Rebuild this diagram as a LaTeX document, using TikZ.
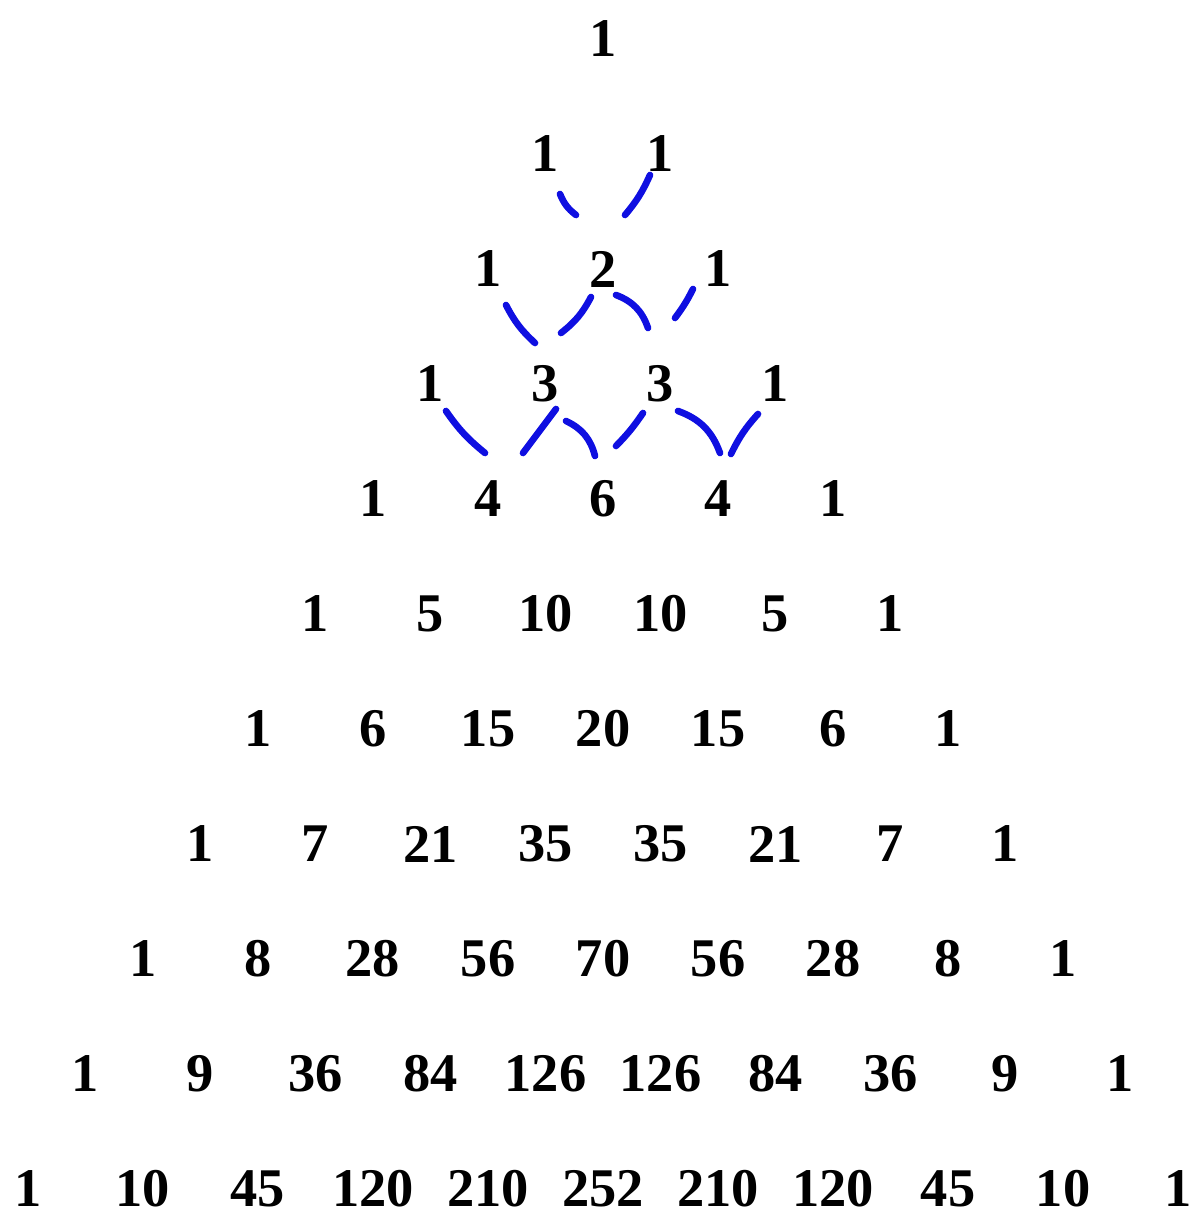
\documentclass[tikz,border=0pt]{standalone}
\usepackage{fontspec}
\setmainfont{Liberation Serif}
\usepackage{tikz}
\usetikzlibrary{calc}
\definecolor{pasBlue}{RGB}{15,15,225}
\tikzset{
    pasNum/.style={
        inner sep=0pt,
        font=\fontsize{31}{31}\selectfont\bfseries
    },
    % hand drawn links
    pasStroke/.style={
        draw=pasBlue,
        line width=3.8pt,
        line cap=round
    }
}

\begin{document}
\begin{tikzpicture}
\useasboundingbox (-12.06,0.78) rectangle (11.78,-23.68);
% rows of the triangle
\foreach \r/\vals in {0/{1},1/{1,1},2/{1,2,1},3/{1,3,3,1},4/{1,4,6,4,1},5/{1,5,10,10,5,1},
    6/{1,6,15,20,15,6,1},7/{1,7,21,35,35,21,7,1},8/{1,8,28,56,70,56,28,8,1},
    9/{1,9,36,84,126,126,84,36,9,1},10/{1,10,45,120,210,252,210,120,45,10,1}} {
  \foreach \v [count=\k from 0] in \vals {
    \node[pasNum] (p-\r-\k) at ({(\k-\r/2)*2.3},{-\r*2.3}) {\v};
  }
}
% row 1 to row 2
\draw[pasStroke] ($(p-1-0)+(0.29,-0.80)$) to[bend right=15] ($(p-2-1)+(-0.54,1.08)$);
\draw[pasStroke] ($(p-1-1)+(-0.21,-0.42)$) to[bend left=8] ($(p-2-1)+(0.44,1.08)$);
% row 2 to row 3
\draw[pasStroke] ($(p-2-0)+(0.36,-0.72)$) to[bend right=10] ($(p-3-1)+(-0.21,0.82)$);
\draw[pasStroke] ($(p-2-1)+(-0.24,-0.56)$) to[bend left=12] ($(p-3-1)+(0.31,1.02)$);
\draw[pasStroke] ($(p-2-1)+(0.26,-0.52)$) to[bend left=25] ($(p-3-2)+(-0.25,1.12)$);
\draw[pasStroke] ($(p-2-2)+(-0.50,-0.40)$) to[bend left=5] ($(p-3-2)+(0.29,1.32)$);
% row 3 to row 4
\draw[pasStroke] ($(p-3-0)+(0.31,-0.54)$) to[bend right=8] ($(p-4-1)+(-0.06,0.92)$);
\draw[pasStroke] ($(p-3-1)+(0.21,-0.50)$) -- ($(p-4-1)+(0.70,0.92)$);
\draw[pasStroke] ($(p-3-1)+(0.41,-0.74)$) to[bend left=25] ($(p-4-2)+(-0.16,0.86)$);
\draw[pasStroke] ($(p-3-2)+(-0.35,-0.58)$) to[bend left=5] ($(p-4-2)+(0.26,1.06)$);
\draw[pasStroke] ($(p-3-2)+(0.35,-0.54)$) to[bend left=25] ($(p-4-3)+(0.04,0.92)$);
\draw[pasStroke] ($(p-3-3)+(-0.35,-0.60)$) to[bend right=8] ($(p-4-3)+(0.26,0.90)$);
\end{tikzpicture}
\end{document}
